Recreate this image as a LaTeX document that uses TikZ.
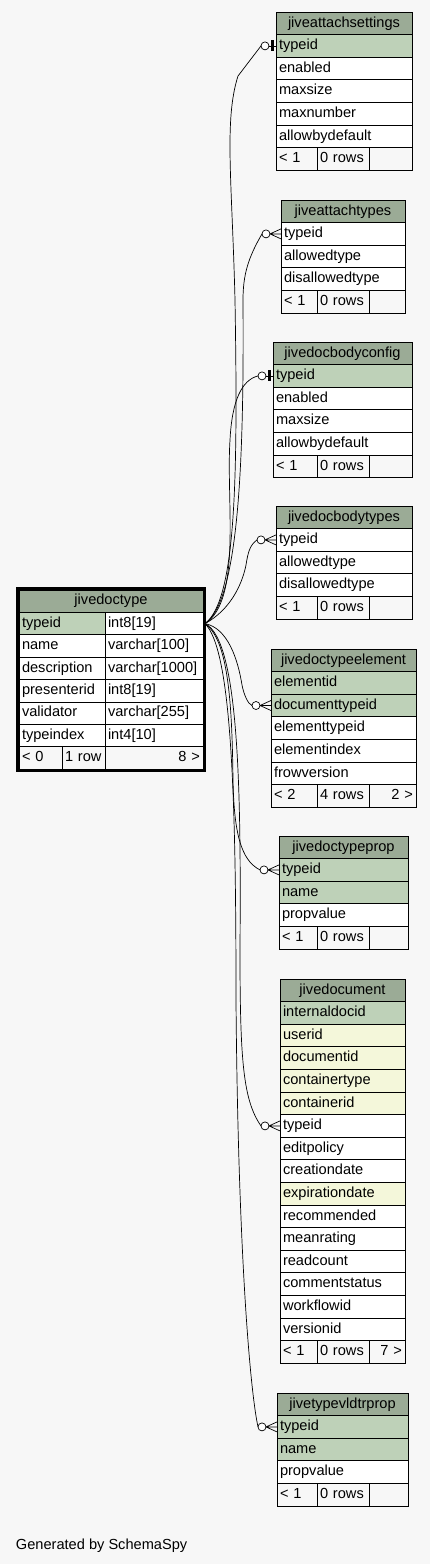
\documentclass[tikz,border=0pt]{standalone}
\usepackage{fontspec}
\setmainfont{Liberation Sans}
\usetikzlibrary{positioning,calc}
\definecolor{schemabg}{HTML}{F7F7F7}
\definecolor{headgreen}{HTML}{9BAB96}
\definecolor{pkgreen}{HTML}{BED1B8}
\definecolor{idxyellow}{HTML}{F4F7DA}

\begin{document}
\begin{tikzpicture}[
    x=1pt, y=-1pt,
    every node/.style={font=\fontsize{14.6}{16}\selectfont, inner ysep=0pt, inner xsep=3pt, outer sep=0pt},
    headcell/.style={draw=black, line width=0.9pt, fill=headgreen, anchor=north west,
                     minimum height=22.6pt, text height=10.5pt, text depth=3pt, align=center},
    fieldcell/.style={draw=black, line width=0.9pt, anchor=north west,
                      minimum height=22.6pt, text height=10.5pt, text depth=3pt, align=left},
    footcell/.style={draw=black, line width=0.9pt, fill=schemabg, anchor=north west,
                     minimum height=22.6pt, text height=10.5pt, text depth=3pt, align=left},
    rel/.style={line width=0.7pt, color=black},
    crowodot/.pic={
        \draw[rel, fill=white] (-15,0) circle (4);
        \draw[rel] (-11,0) -- (0,-5) (-11,0) -- (0,0) (-11,0) -- (0,5);
    },
    teeodot/.pic={
        \draw[rel, fill=white] (-11,0) circle (4);
        \draw[rel] (-7,0) -- (0,0);
        \draw[line width=2.6pt] (-3.5,-5.5) -- (-3.5,5.5);
    }
]
\fill[schemabg] (0,0) rectangle (430,1564);
\useasboundingbox (0,0) rectangle (430,1564);

% child tables: header and footer
\foreach \t/\x/\y/\w/\n/\ttl/\fa/\fb/\fc in {
    as/276/12/136/5/jiveattachsettings/{< 1}/{0 rows}/{},
    at/281/200/124/3/jiveattachtypes/{< 1}/{0 rows}/{},
    dbc/273/342/139/4/jivedocbodyconfig/{< 1}/{0 rows}/{},
    dbt/276/506/136/3/jivedocbodytypes/{< 1}/{0 rows}/{},
    dte/271/649/145/5/jivedoctypeelement/{< 2}/{4 rows}/{2 >},
    dtp/279/836/129/3/jivedoctypeprop/{< 1}/{0 rows}/{},
    doc/280/979/125/15/jivedocument/{< 1}/{0 rows}/{7 >},
    tvp/277/1393/131/3/jivetypevldtrprop/{< 1}/{0 rows}/{}
}{
    \pgfmathsetmacro\tw{\w-6}
    \pgfmathsetmacro\wa{317-\x-6}
    \pgfmathsetmacro\wc{\x+\w-369-6}
    \pgfmathsetmacro\yf{\y+(\n+1)*22.6}
    \node[headcell, text width=\tw pt] (\t-head) at (\x,\y) {\ttl};
    \node[footcell, text width=\wa pt] (\t-foot1) at (\x,\yf) {\fa};
    \node[footcell, text width=46pt] (\t-foot2) at (317,\yf) {\fb};
    \node[footcell, text width=\wc pt, align=right] (\t-foot3) at (369,\yf) {\fc};
}

% child tables: columns
\foreach \f/\c [count=\i] in {typeid/pkgreen, enabled/white, maxsize/white, maxnumber/white, allowbydefault/white}
    \node[fieldcell, fill=\c, text width=130pt] (as-\f) at (276,{12+\i*22.6}) {\f};
\foreach \f/\c [count=\i] in {typeid/white, allowedtype/white, disallowedtype/white}
    \node[fieldcell, fill=\c, text width=118pt] (at-\f) at (281,{200+\i*22.6}) {\f};
\foreach \f/\c [count=\i] in {typeid/pkgreen, enabled/white, maxsize/white, allowbydefault/white}
    \node[fieldcell, fill=\c, text width=133pt] (dbc-\f) at (273,{342+\i*22.6}) {\f};
\foreach \f/\c [count=\i] in {typeid/white, allowedtype/white, disallowedtype/white}
    \node[fieldcell, fill=\c, text width=130pt] (dbt-\f) at (276,{506+\i*22.6}) {\f};
\foreach \f/\c [count=\i] in {elementid/pkgreen, documenttypeid/pkgreen, elementtypeid/white, elementindex/white, frowversion/white}
    \node[fieldcell, fill=\c, text width=139pt] (dte-\f) at (271,{649+\i*22.6}) {\f};
\foreach \f/\c [count=\i] in {typeid/pkgreen, name/pkgreen, propvalue/white}
    \node[fieldcell, fill=\c, text width=123pt] (dtp-\f) at (279,{836+\i*22.6}) {\f};
\foreach \f/\c [count=\i] in {internaldocid/pkgreen, userid/idxyellow, documentid/idxyellow,
        containertype/idxyellow, containerid/idxyellow, typeid/white, editpolicy/white,
        creationdate/white, expirationdate/idxyellow, recommended/white, meanrating/white,
        readcount/white, commentstatus/white, workflowid/white, versionid/white}
    \node[fieldcell, fill=\c, text width=119pt] (doc-\f) at (280,{979+\i*22.6}) {\f};
\foreach \f/\c [count=\i] in {typeid/pkgreen, name/pkgreen, propvalue/white}
    \node[fieldcell, fill=\c, text width=125pt] (tvp-\f) at (277,{1393+\i*22.6}) {\f};

% parent table
\node[headcell, text width=178pt, minimum height=22.4pt] (dt-head) at (19,590) {jivedoctype};
\foreach \f/\ty/\c [count=\i] in {typeid/int8[19]/pkgreen, name/varchar[100]/white,
        description/varchar[1000]/white, presenterid/int8[19]/white,
        validator/varchar[255]/white, typeindex/int4[10]/white}{
    \node[fieldcell, fill=\c, text width=80pt, minimum height=22.4pt] (dt-\f) at (19,{590+\i*22.4}) {\f};
    \node[fieldcell, fill=white, text width=92pt, minimum height=22.4pt] (dt-\f-t) at (105,{590+\i*22.4}) {\ty};
}
\node[footcell, text width=37pt, minimum height=22.4pt] (dt-foot1) at (19,746.8) {< 0};
\node[footcell, text width=37pt, minimum height=22.4pt] (dt-foot2) at (62,746.8) {1 row};
\node[footcell, text width=92pt, minimum height=22.4pt, align=right] (dt-foot3) at (105,746.8) {8 >};
\draw[line width=2.4pt] ($(dt-head.north west)+(-1.6,-1.6)$) rectangle ($(dt-foot3.south east)+(1.6,1.6)$);

% relationships
\draw[rel] ([xshift=2pt]dt-typeid-t.east) .. controls (236,600) and (238,480) .. (235,300)
    .. controls (232,180) and (224,120) .. (238,76) -- ([xshift=-15pt]as-typeid.west);
\draw[rel] ([xshift=2pt]dt-typeid-t.east) .. controls (240,600) and (244,450) .. (243,300)
    .. controls (243,275) and (248,258) .. ([xshift=-19pt]at-typeid.west);
\draw[rel] ([xshift=2pt]dt-typeid-t.east) .. controls (242,600) and (226,500) .. (230,440)
    .. controls (232,400) and (242,380) .. ([xshift=-15pt]dbc-typeid.west);
\draw[rel] ([xshift=2pt]dt-typeid-t.east) .. controls (230,610) and (242,585) .. (246,565)
    .. controls (248,552) and (250,545) .. ([xshift=-19pt]dbt-typeid.west);
\draw[rel] ([xshift=2pt]dt-typeid-t.east) .. controls (228,628) and (238,660) .. (242,685)
    .. controls (244,695) and (248,704) .. ([xshift=-19pt]dte-documenttypeid.west);
\draw[rel] ([xshift=2pt]dt-typeid-t.east) .. controls (228,640) and (232,700) .. (233,780)
    .. controls (234,830) and (240,860) .. ([xshift=-19pt]dtp-typeid.west);
\draw[rel] ([xshift=2pt]dt-typeid-t.east) .. controls (240,640) and (241,800) .. (240,950)
    .. controls (240,1060) and (243,1100) .. ([xshift=-19pt]doc-typeid.west);
\draw[rel] ([xshift=2pt]dt-typeid-t.east) .. controls (232,650) and (236,800) .. (236,1000)
    .. controls (238,1250) and (250,1390) .. ([xshift=-19pt]tvp-typeid.west);
\pic at (as-typeid.west) {teeodot};
\pic at (at-typeid.west) {crowodot};
\pic at (dbc-typeid.west) {teeodot};
\pic at (dbt-typeid.west) {crowodot};
\pic at (dte-documenttypeid.west) {crowodot};
\pic at (dtp-typeid.west) {crowodot};
\pic at (doc-typeid.west) {crowodot};
\pic at (tvp-typeid.west) {crowodot};

\node[anchor=west, inner xsep=0pt] (credit) at (16,1546) {Generated by SchemaSpy};
\end{tikzpicture}
\end{document}
